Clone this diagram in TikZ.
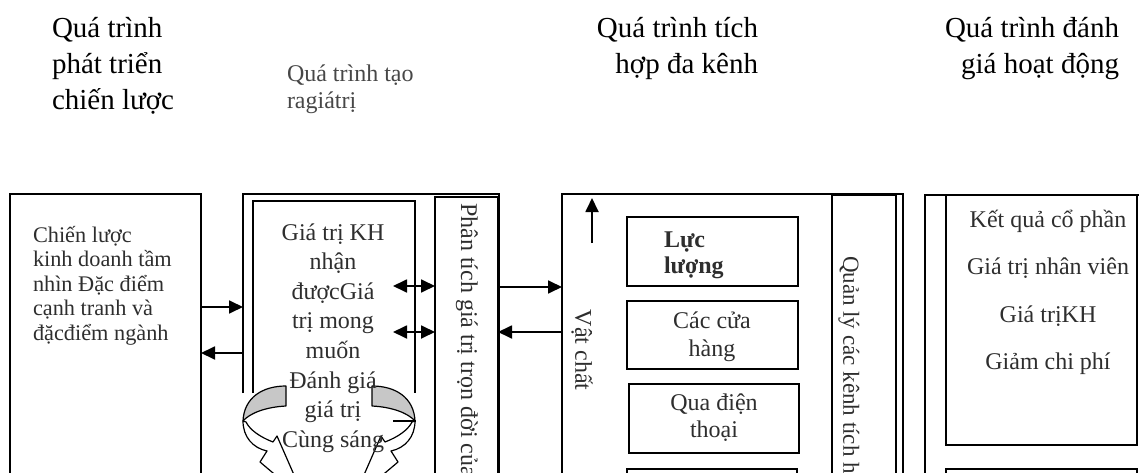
\documentclass[tikz,border=0pt]{standalone}
\usepackage{fontspec}
\setmainfont{Liberation Serif}
\usetikzlibrary{arrows.meta,calc}
\setlength{\lineskiplimit}{-100pt}
\setlength{\lineskip}{0pt}
\begin{document}
\begin{tikzpicture}[x=1pt,y=-1pt,
  box/.style={draw, line width=1.5pt, inner sep=0pt, outer sep=0pt, anchor=north west},
  area/.style={inner sep=0pt, outer sep=0pt, anchor=north west},
  edge/.style={line width=1.5pt},
  conn/.style={line width=1.8pt, -{Triangle[length=14pt,width=13pt]}},
  conntwo/.style={line width=1.8pt, {Triangle[length=14pt,width=13pt]}-{Triangle[length=14pt,width=13pt]}},
  ribbon/.style={draw, line width=1.2pt, line join=round},
  txt/.style={inner sep=0pt, outer sep=0pt, text=black!82},
  headfont/.style={font=\fontsize{29}{36}\selectfont},
  subfont/.style={font=\fontsize{24}{27}\selectfont},
  bodyfont/.style={font=\fontsize{24}{#1}\selectfont},
]
\useasboundingbox (0,0) rectangle (1139,473);
\clip (0,0) rectangle (1139,473);

% ---- headings ----
\node[txt, headfont, anchor=north west, align=left, text=black] (t1) at (52,6)
  {\rule{0pt}{32pt}Quá trình\\phát triển\\chiến lược};
\node[txt, subfont, anchor=north west, align=left, text=black!72] (t2) at (287,56)
  {\rule{0pt}{26pt}Quá trình tạo\\ragiátrị};
\node[txt, headfont, anchor=north east, align=right, text=black] (t3) at (758,6)
  {\rule{0pt}{32pt}Quá trình tích\\hợp đa kênh};
\node[txt, headfont, anchor=north east, align=right, text=black] (t4) at (1119,6)
  {\rule{0pt}{32pt}Quá trình đánh\\giá hoạt động};

% ---- strategy column ----
\node[box, minimum width=191pt, minimum height=320pt] (strat) at (10,194) {};

% ---- value creation column ----
\node[area, minimum width=256pt, minimum height=320pt] (valuearea) at (243,194) {};
\draw[edge] ([yshift=-199pt]valuearea.north west) -- (valuearea.north west)
  -- (valuearea.north east) -- (valuearea.south east);
\node[area, minimum width=162pt, minimum height=192pt] (valuein) at (253,201) {};
\draw[edge] (valuein.south west) -- (valuein.north west)
  -- (valuein.north east) -- (valuein.south east);
\node[box, minimum width=63pt, minimum height=320pt] (lifetime) at (435,197) {};

% ---- multichannel column ----
\node[box, minimum width=341pt, minimum height=320pt] (channels) at (562,194) {};
\node[box, minimum width=64pt, minimum height=320pt] (mgmt) at (832,195) {};
\node[box, minimum width=171pt, minimum height=69pt] (sales) at (627,217) {};
\node[box, minimum width=171pt, minimum height=68pt] (stores) at (627,301) {};
\node[box, minimum width=170pt, minimum height=69pt] (phone) at (629,384) {};
\node[box, minimum width=170pt, minimum height=40pt] (chanfour) at (627,469) {};

% ---- performance column ----
\node[box, minimum width=230pt, minimum height=320pt] (perf) at (925,195) {};
\node[box, minimum width=191pt, minimum height=250pt] (perfres) at (946,195) {};
\node[box, minimum width=191pt, minimum height=40pt] (perfnext) at (946,469) {};

% ---- connectors ----
\draw[conn] (strat.east |- 0,307) -- (valuearea.west |- 0,307);
\draw[conn] (valuearea.west |- 0,353) -- (strat.east |- 0,353);
\coordinate (dA) at (393,286);
\coordinate (dB) at (393,332);
\draw[conntwo] (dA) -- (lifetime.west |- dA);
\draw[conntwo] (dB) -- (lifetime.west |- dB);
\draw[conn] (lifetime.east |- 0,287) -- (channels.west |- 0,287);
\draw[conn] (channels.west |- 0,332) -- (lifetime.east |- 0,332);
\coordinate (upfoot) at (592,243);
\coordinate (uptip) at (592,198);
\draw[conn] (upfoot) -- (uptip);

% ---- curved co-creation arrows ----
\fill[white] (244,396) rectangle (414,473);
% left ribbon
\draw[ribbon, fill=black!22] (286,386) .. controls (262,386) and (244,398) .. (243,421)
  .. controls (250,413) and (266,407) .. (286,406) -- cycle;
\draw[ribbon, fill=white] (243,421) .. controls (243,437) and (253,448) .. (267,451)
  -- (260,462) -- (305,500) -- (277,436) -- (273,442)
  .. controls (260,437) and (250,430) .. (246,422) -- cycle;
% right ribbon
\draw[ribbon, fill=black!22] (372,386) .. controls (396,386) and (414,398) .. (415,421)
  .. controls (408,413) and (392,407) .. (372,406) -- cycle;
\draw[ribbon, fill=white] (415,421) .. controls (415,437) and (405,448) .. (391,451)
  -- (398,462) -- (353,500) -- (381,436) -- (385,442)
  .. controls (398,437) and (408,430) .. (412,422) -- cycle;
\draw[line width=1.2pt] (393,421) -- (416,421);

% ---- box texts ----
\node[txt, font=\fontsize{22.3}{24.5}\selectfont, anchor=north west, align=left] (stratlbl) at (33,216)
  {\rule{0pt}{26pt}Chiến lược\\kinh doanh tầm\\nhìn Đặc điểm\\cạnh tranh và\\đặcđiểm ngành};
\node[txt, bodyfont=29.6, anchor=north, align=center] (valuelbl) at (333,214)
  {\rule{0pt}{26pt}Giá trị KH\\nhận\\đượcGiá\\trị mong\\muốn\\Đánh giá\\giá trị\\Cùng sáng};
\node[txt, bodyfont=26, anchor=north west, align=left] (saleslbl) at (664,221)
  {\rule{0pt}{26pt}\bfseries Lực\\\bfseries lượng};
\node[txt, bodyfont=28, anchor=north, align=center] (storeslbl) at (712,302)
  {\rule{0pt}{26pt}Các cửa\\hàng};
\node[txt, bodyfont=27, anchor=north, align=center] (phonelbl) at (714,384)
  {\rule{0pt}{26pt}Qua điện\\thoại};
\node[txt, bodyfont=47.5, anchor=north, align=center] (perflbl) at (1048,201)
  {\rule{0pt}{26pt}Kết quả cổ phần\\Giá trị nhân viên\\Giá trịKH\\Giảm chi phí};

% ---- vertical labels ----
\node[txt, bodyfont=28, rotate=-90] (matlbl) at (582,350) {Vật chất};
\node[txt, bodyfont=28, rotate=-90, anchor=west] (lifelbl) at (467,203)
  {Phân tích giá trị trọn đời của};
\node[txt, font=\fontsize{23}{27}\selectfont, rotate=-90, anchor=west] (mgmtlbl) at (849,256)
  {Quản lý các kênh tích hợp};
\end{tikzpicture}
\end{document}
